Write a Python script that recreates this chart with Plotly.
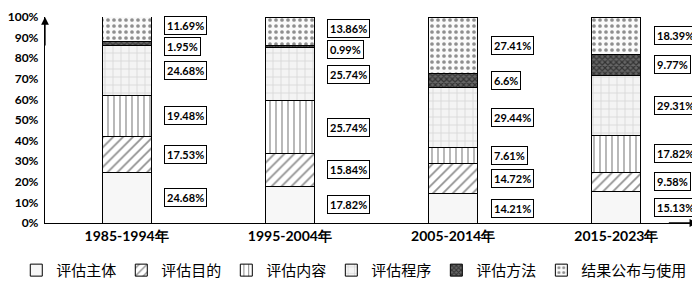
import plotly.graph_objects as go

periods = ["1985-1994年", "1995-2004年", "2005-2014年", "2015-2023年"]
series_names = ["评估主体", "评估目的", "评估内容", "评估程序", "评估方法", "结果公布与使用"]
zhuti = [24.68, 17.82, 14.21, 15.13]
mudi = [17.53, 15.84, 14.72, 9.58]
neirong = [19.48, 25.74, 7.61, 17.82]
chengxu = [24.68, 25.74, 29.44, 29.31]
fangfa = [1.95, 0.99, 6.6, 9.77]
jieguo = [11.69, 13.86, 27.41, 18.39]
y_ticks = [0, 10, 20, 30, 40, 50, 60, 70, 80, 90, 100]

series_values = [zhuti, mudi, neirong, chengxu, fangfa, jieguo]

patterns = [
    dict(shape="", bgcolor="#f7f7f7"),
    dict(shape="/", fgcolor="#222222", bgcolor="white", size=7, solidity=0.25),
    dict(shape="|", fgcolor="#111111", bgcolor="white", size=6, solidity=0.2),
    dict(shape="+", fgcolor="#9a9a9a", bgcolor="#f4f4f4", size=8, solidity=0.12),
    dict(shape="x", fgcolor="#000000", bgcolor="#666666", size=4, solidity=0.5),
    dict(shape=".", fgcolor="#222222", bgcolor="#fafafa", size=6, solidity=0.3),
]

fig = go.Figure()
x_idx = list(range(len(periods)))
for name, vals, pat in zip(series_names, series_values, patterns):
    fig.add_trace(go.Bar(
        x=x_idx, y=vals, name=name, width=0.3,
        marker=dict(color=pat.get("bgcolor", "white"), pattern=pat,
                    line=dict(color="black", width=1)),
    ))

# labels: segment centers with simple collision avoidance
annotations = []
gap = 10.0
for i in x_idx:
    vals = [s[i] for s in series_values]
    centers = []
    cum = 0.0
    for v in vals:
        centers.append(cum + v / 2)
        cum += v
    pos = list(centers)
    for _ in range(200):
        moved = False
        for k in range(len(pos) - 1):
            d = pos[k + 1] - pos[k]
            if d < gap - 1e-6:
                s = (gap - d) / 2
                pos[k] -= s
                pos[k + 1] += s
                moved = True
        if pos[0] < 3.5:
            pos[0] = 3.5
        if not moved:
            break
    for v, p in zip(vals, pos):
        annotations.append(dict(
            x=i + 0.23, y=p, xref="x", yref="y", text=f"{v:g}%", showarrow=False,
            font=dict(family="Lato, Liberation Sans, sans-serif", size=11, color="black", weight="bold"),
            bordercolor="black", borderwidth=1, borderpad=2, bgcolor="white",
            xanchor="left", yanchor="middle",
        ))

# axis arrows
annotations.append(dict(x=0, y=1.0, xref="paper", yref="paper", ax=0, ay=30, axref="pixel", ayref="pixel",
                        text="", showarrow=True, arrowhead=2, arrowsize=1.2, arrowwidth=1.3, arrowcolor="black"))
annotations.append(dict(x=0.999, y=0, xref="paper", yref="paper", ax=-30, ay=0, axref="pixel", ayref="pixel",
                        text="", showarrow=True, arrowhead=2, arrowsize=1.2, arrowwidth=1.3, arrowcolor="black"))

# the page places the figure 8px from the window's top-left corner
fig.update_layout(
    barmode="stack",
    width=692, height=279,
    margin=dict(l=37, r=2, t=9, b=64, autoexpand=False),
    plot_bgcolor="white", paper_bgcolor="white",
    showlegend=True,
    legend=dict(orientation="h", x=-0.044, xanchor="left", y=-0.23, yanchor="middle",
                font=dict(family="Noto Sans CJK SC", size=15, color="black"),
                traceorder="normal", itemwidth=30, bgcolor="rgba(0,0,0,0)"),
    annotations=annotations,
)
fig.update_xaxes(
    tickmode="array", tickvals=x_idx, ticktext=periods, range=[-0.5, 3.5],
    showline=True, linecolor="black", linewidth=1.3, showgrid=False, ticks="",
    tickfont=dict(family="Lato, Liberation Sans, sans-serif", size=14, color="black", weight="bold"),
    zeroline=False, automargin=False,
)
fig.update_yaxes(
    range=[0, 100], tickmode="array", tickvals=y_ticks, ticktext=[f"{t}%" for t in y_ticks],
    showline=True, linecolor="black", linewidth=1.3, showgrid=False, ticks="",
    ticklabelstandoff=3, ticklabeloverflow="allow",
    tickfont=dict(family="Lato, Liberation Sans, sans-serif", size=12, color="black", weight="bold"),
    zeroline=False, automargin=False,
)

fig.write_html("out.html")
